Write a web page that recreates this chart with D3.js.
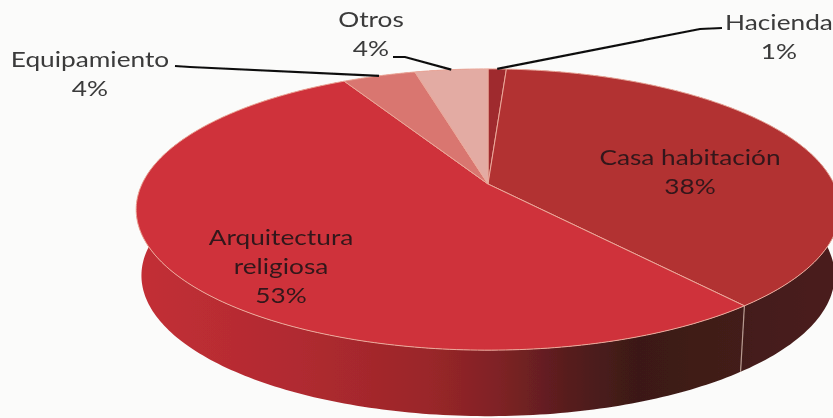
<!DOCTYPE html>
<html>
<head>
<meta charset="utf-8">
<script src="https://cdn.jsdelivr.net/npm/d3@7"></script>
<style>
  html, body { margin: 0; padding: 0; background: #fbfbfa; }
  svg { display: block; }
  text { font-family: Lato, "Open Sans", sans-serif; }
</style>
</head>
<body>
<script>
// slices go clockwise starting from the back of the pie
var categories = ["Hacienda", "Casa habitación", "Arquitectura religiosa", "Equipamiento", "Otros"];
var values = [1, 38, 53, 4, 4];
var topColors = ["#9f2b2d", "#b23032", "#cf333a", "#d9766f", "#e3aba3"];

var width = 833,
    height = 418,
    cx = 488,
    cy = 184,
    faceX = 346,
    faceY = 136,
    tilt = 0.1815,
    depth = 66;

// perspective view of a round pie, apex is not in the middle of the ellipse
function project(angle, r, drop) {
  var u = Math.sin(angle) * r,
      v = -Math.cos(angle) * r,
      w = 1 - tilt * v,
      shrink = drop ? 0.985 : 1;
  return [cx + faceX * u / w * shrink, cy + faceY * v / w + (drop || 0)];
}

function rim(a0, a1, drop) {
  var n = Math.max(2, Math.ceil((a1 - a0) * 60));
  return d3.range(n + 1).map(function(i) {
    return project(a0 + (a1 - a0) * i / n, 1, drop);
  });
}

var pie = d3.pie().sort(null).value(function(d) { return d; });
var slices = pie(values);
var line = d3.line();
var color = d3.scaleOrdinal().domain(categories).range(topColors);

var svg = d3.select("body").append("svg")
  .attr("width", width)
  .attr("height", height);

var defs = svg.append("defs");
var sideGrad = defs.append("linearGradient")
  .attr("id", "side")
  .attr("gradientUnits", "userSpaceOnUse")
  .attr("x1", 136).attr("x2", 833).attr("y1", 0).attr("y2", 0);
[[0, "#c32f36"], [0.235, "#b02a30"], [0.42, "#9a2629"], [0.52, "#7f2225"], [0.62, "#571d1e"], [0.72, "#3b1917"], [1, "#4a1f1c"]]
  .forEach(function(s) {
    sideGrad.append("stop").attr("offset", s[0]).attr("stop-color", s[1]);
  });
defs.append("filter").attr("id", "soft")
  .append("feGaussianBlur").attr("stdDeviation", 0.7);

var chart = svg.append("g").attr("filter", "url(#soft)");

// side wall first, the top face covers the hidden part
chart.selectAll("path.side")
  .data(slices)
  .enter()
  .append("path")
  .attr("class", "side")
  .attr("fill", "url(#side)")
  .attr("d", function(d) {
    return line(rim(d.startAngle, d.endAngle, 0).concat(rim(d.startAngle, d.endAngle, depth).reverse())) + "Z";
  });

// seam between the two visible walls
var seam = slices[1].endAngle;
chart.append("path")
  .attr("d", line([project(seam, 1, 0), project(seam, 1, depth)]))
  .attr("stroke", "#b89a90")
  .attr("stroke-width", 1.2);

chart.selectAll("path.face")
  .data(slices)
  .enter()
  .append("path")
  .attr("class", "face")
  .attr("fill", function(d, i) { return color(categories[i]); })
  .attr("stroke", "#eba99b")
  .attr("stroke-width", 1)
  .attr("stroke-linejoin", "round")
  .attr("d", function(d) {
    return line([[cx, cy]].concat(rim(d.startAngle, d.endAngle, 0))) + "Z";
  });

// leader lines start at the middle of the slice edge
var leaders = [
  { slice: 0, elbow: [[700, 29], [722, 28]] },
  { slice: 4, elbow: [[405, 57], [393, 57]] },
  { slice: 3, elbow: [[190, 67], [175, 66]] }
];
chart.selectAll("path.leader")
  .data(leaders)
  .enter()
  .append("path")
  .attr("class", "leader")
  .attr("fill", "none")
  .attr("stroke", "#111")
  .attr("stroke-width", 2.2)
  .attr("d", function(d) {
    var s = slices[d.slice];
    return line([project((s.startAngle + s.endAngle) / 2, 1, 0)].concat(d.elbow));
  });

var labels = [
  { lines: [categories[0], values[0] + "%"], x: 779, y: 30, fill: "#3a3a3a" },
  { lines: [categories[4], values[4] + "%"], x: 371, y: 27, fill: "#3a3a3a" },
  { lines: [categories[3], values[3] + "%"], x: 90, y: 67, fill: "#3a3a3a" },
  { lines: [categories[1], values[1] + "%"], x: 690, y: 165, fill: "#33191a" },
  { lines: ["Arquitectura", "religiosa", values[2] + "%"], x: 281, y: 245, fill: "#33191a" }
];

// the scan is stretched sideways, so the text is too
labels.forEach(function(l) {
  var t = chart.append("text")
    .attr("transform", "translate(" + l.x + ",0) scale(1.25,1)")
    .attr("text-anchor", "middle")
    .attr("font-size", 21)
    .attr("fill", l.fill);
  l.lines.forEach(function(s, i) {
    t.append("tspan")
      .attr("x", 0)
      .attr("y", l.y + i * 29)
      .text(s);
  });
});
</script>
</body>
</html>
